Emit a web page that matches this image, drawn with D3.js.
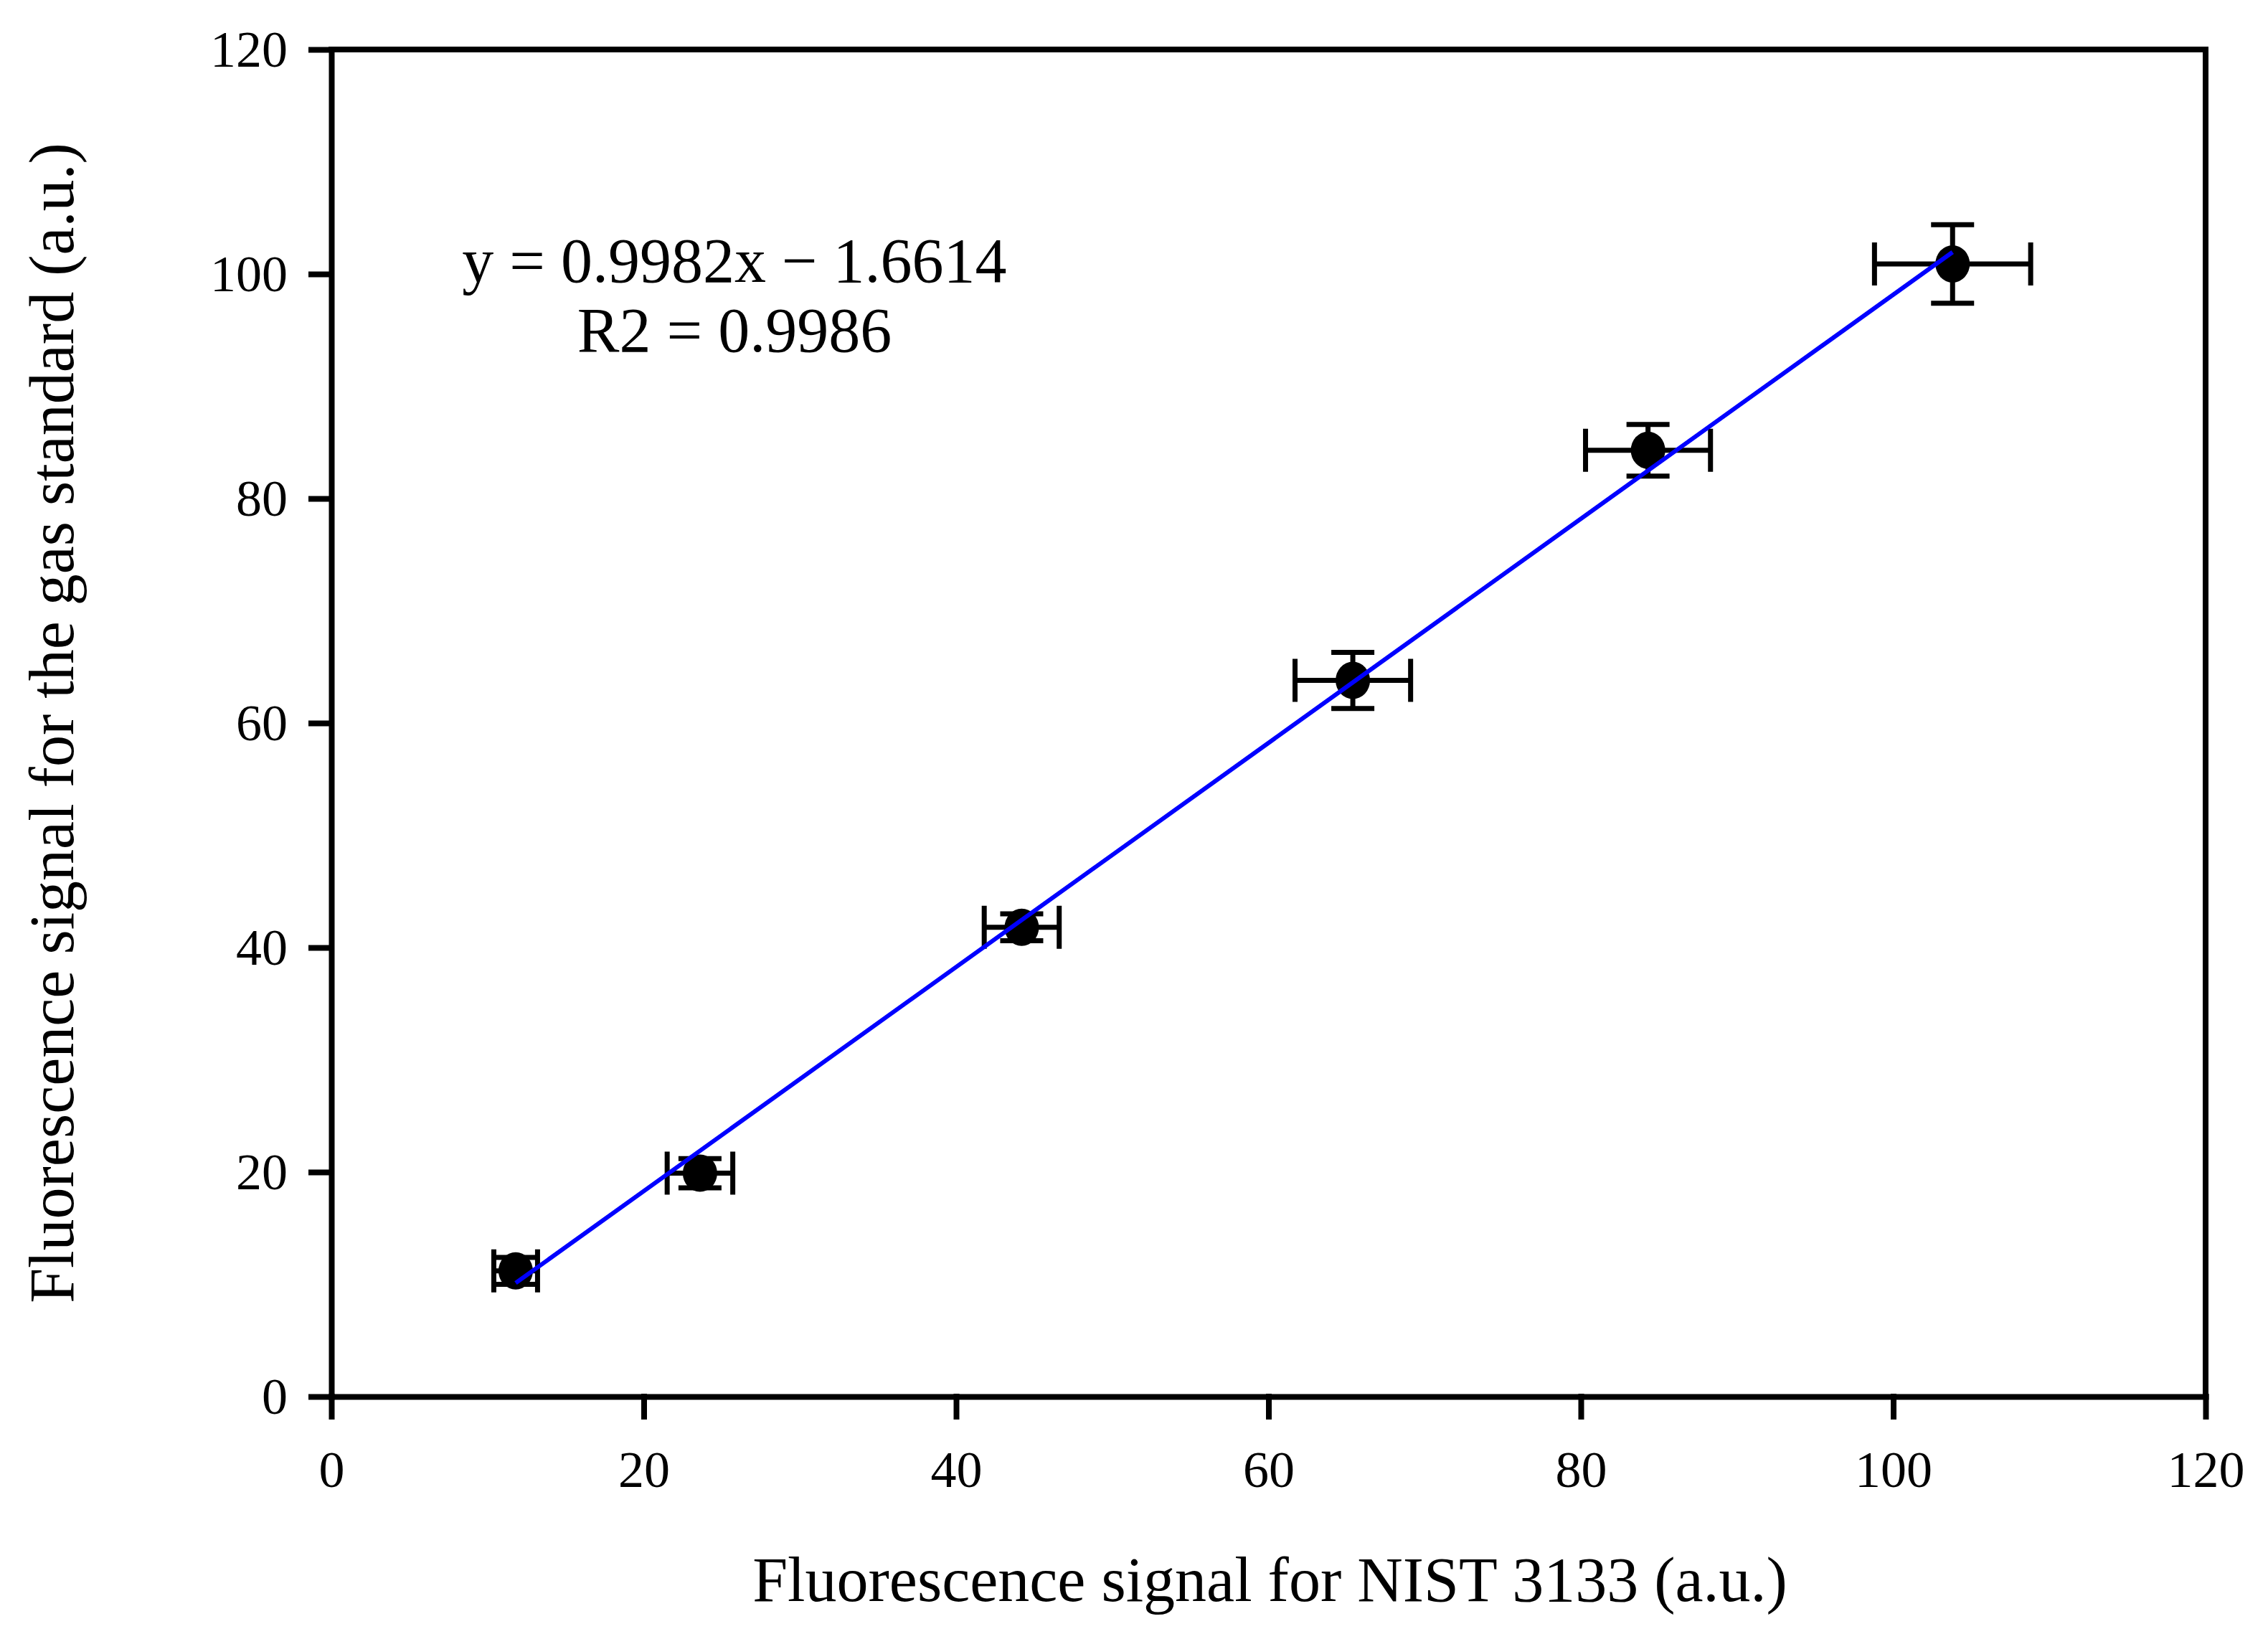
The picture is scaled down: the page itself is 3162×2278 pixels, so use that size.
<!DOCTYPE html>
<html>
<head>
<meta charset="utf-8">
<script src="https://cdn.jsdelivr.net/npm/d3@7"></script>
<style>
    html, body { margin: 0; padding: 0; background: #fff; }
    svg { display: block; }
    text { font-family: "Liberation Serif", "Times New Roman", serif; fill: #000; }
</style>
</head>
<body>
<div id="chart_area"></div>
<script>
// values
const nist_signal = [11.8, 23.6, 44.2, 65.4, 84.3, 103.8];
const gas_signal = [11.2, 19.9, 41.8, 63.8, 84.3, 100.9];
const nist_error = [1.4, 2.1, 2.4, 3.7, 4.0, 5.0];
const gas_error = [1.2, 1.3, 1.2, 2.5, 2.3, 3.5];

const x_ticks = [0, 20, 40, 60, 80, 100, 120];
const y_ticks = [0, 20, 40, 60, 80, 100, 120];

const fit_slope = 0.9982;
const fit_intercept = -1.6614;
const fit_labels = ["y = 0.9982x \u2212 1.6614", "R2 = 0.9986"];

const x_title = "Fluorescence signal for NIST 3133 (a.u.)";
const y_title = "Fluorescence signal for the gas standard (a.u.)";

const WIDTH = 3162;
const HEIGHT = 2278;
const AXIS_WIDTH = 8;
const TICK_LENGTH = 28;
const CAP_HALF = 30;

let margin = {left: 462, right: WIDTH - 3075, top: 69, bottom: HEIGHT - 1947};

let svg = d3.select("#chart_area")
    .append("svg")
    .attr("width", WIDTH)
    .attr("height", HEIGHT);

let x = d3.scaleLinear()
    .domain([0, 120])
    .range([margin.left, WIDTH - margin.right]);

let y = d3.scaleLinear()
    .domain([0, 120])
    .range([HEIGHT - margin.bottom, margin.top]);

let points = nist_signal.map(function (d, i) {
    return {x: d, y: gas_signal[i], ex: nist_error[i], ey: gas_error[i]};
});

// frame: top and right sides, the other two come from the axes
let frame = svg.append("g")
    .attr("stroke", "#000")
    .attr("stroke-width", AXIS_WIDTH)
    .attr("stroke-linecap", "square")
    .attr("fill", "none");

frame.append("path")
    .attr("d", "M" + x(0) + "," + y(120) + "H" + x(120) + "V" + y(0));

let x_axis = svg.append("g")
    .attr("transform", "translate(0," + y(0) + ")")
    .call(d3.axisBottom(x)
        .tickValues(x_ticks)
        .tickSize(TICK_LENGTH)
        .tickSizeOuter(0)
        .tickPadding(47)
        .tickFormat(d3.format("d")));

let y_axis = svg.append("g")
    .attr("transform", "translate(" + x(0) + ",0)")
    .call(d3.axisLeft(y)
        .tickValues(y_ticks)
        .tickSize(TICK_LENGTH)
        .tickSizeOuter(0)
        .tickPadding(33)
        .tickFormat(d3.format("d")));

svg.selectAll(".domain, .tick line")
    .attr("stroke", "#000")
    .attr("stroke-width", AXIS_WIDTH)
    .attr("stroke-linecap", "square");

svg.selectAll(".tick text")
    .attr("font-family", "'Liberation Serif', 'Times New Roman', serif")
    .attr("font-size", 72)
    .attr("fill", "#000");

// axis titles
svg.append("text")
    .attr("x", (x(0) + x(120)) / 2 + 2)
    .attr("y", 2232)
    .attr("text-anchor", "middle")
    .attr("font-size", 88)
    .text(x_title);

svg.append("text")
    .attr("transform", "translate(102," + 1008 + ") rotate(-90)")
    .attr("text-anchor", "middle")
    .attr("font-size", 88)
    .text(y_title);

// error bars
let bars = svg.append("g")
    .attr("stroke", "#000")
    .attr("stroke-width", 7)
    .attr("fill", "none");

bars.selectAll("path.xerr")
    .data(points)
    .enter().append("path")
    .attr("class", "xerr")
    .attr("d", function (d) {
        let x0 = x(d.x - d.ex), x1 = x(d.x + d.ex), yc = y(d.y);
        return "M" + x0 + "," + (yc - CAP_HALF) + "V" + (yc + CAP_HALF) +
            "M" + x0 + "," + yc + "H" + x1 +
            "M" + x1 + "," + (yc - CAP_HALF) + "V" + (yc + CAP_HALF);
    });

bars.selectAll("path.yerr")
    .data(points)
    .enter().append("path")
    .attr("class", "yerr")
    .attr("d", function (d) {
        let y0 = y(d.y - d.ey), y1 = y(d.y + d.ey), xc = x(d.x);
        return "M" + (xc - CAP_HALF) + "," + y0 + "H" + (xc + CAP_HALF) +
            "M" + xc + "," + y0 + "V" + y1 +
            "M" + (xc - CAP_HALF) + "," + y1 + "H" + (xc + CAP_HALF);
    });

// markers
svg.append("g")
    .selectAll("ellipse")
    .data(points)
    .enter().append("ellipse")
    .attr("cx", function (d) { return x(d.x); })
    .attr("cy", function (d) { return y(d.y); })
    .attr("rx", 24)
    .attr("ry", 26)
    .attr("fill", "#000");

// linear fit over the data range
let fit_x = d3.extent(nist_signal);
let fit_line = d3.line()
    .x(function (d) { return x(d); })
    .y(function (d) { return y(fit_slope * d + fit_intercept); });

svg.append("path")
    .datum(fit_x)
    .attr("d", fit_line)
    .attr("stroke", "#0000ff")
    .attr("stroke-width", 6)
    .attr("fill", "none");

// equation label
svg.append("g")
    .selectAll("text")
    .data(fit_labels)
    .enter().append("text")
    .attr("x", 1024)
    .attr("y", function (d, i) { return 393 + i * 97; })
    .attr("text-anchor", "middle")
    .attr("font-size", 88)
    .text(function (d) { return d; });
</script>
</body>
</html>
